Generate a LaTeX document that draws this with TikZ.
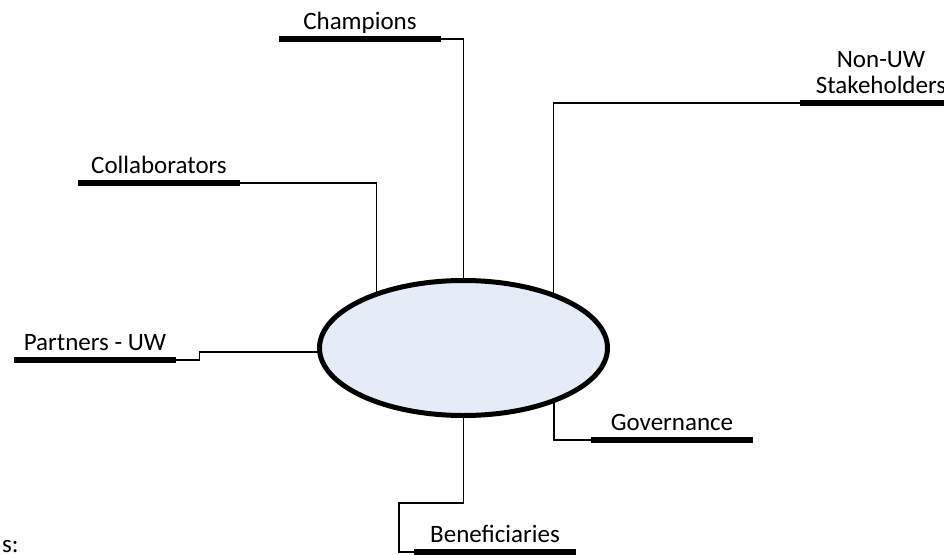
\documentclass[tikz,border=0pt]{standalone}
\usepackage{fontspec}
\setmainfont{Carlito}
\usetikzlibrary{shapes.geometric}
\definecolor{ovalfill}{RGB}{230,236,247}
\tikzset{
  lab/.style={font=\fontsize{25}{26}\selectfont, minimum width=161pt, inner xsep=0pt, inner ysep=9pt, text depth=0pt, anchor=south, align=center},
  under/.style={line width=5.5pt},
  conn/.style={line width=1.3pt},
  hub/.style={ellipse, draw, line width=5pt, fill=ovalfill, minimum width=288pt, minimum height=135pt, inner sep=0pt}
}
\begin{document}
\begin{tikzpicture}[x=1pt,y=-1pt]
\useasboundingbox (0,0) rectangle (944,554);
% hub position
\coordinate (hubpos) at (463.5,348);
% labels
\node[lab] (champ) at (360,39) {Champions};
\node[lab] (nonuw) at (881,103) {Non-UW\\Stakeholders};
\node[lab] (collab) at (159,183) {Collaborators};
\node[lab] (partners) at (95,360) {Partners - UW};
\node[lab] (gov) at (672,440) {Governance};
\node[lab] (bene) at (495,552) {Beneficiaries};
\node[font=\fontsize{25}{26}\selectfont, anchor=base west, inner sep=0pt] (notes) at (2,552) {s:};
% connectors (drawn beneath the hub)
\draw[conn] (champ.south east) -| (hubpos);
\draw[conn] (collab.south east) -| ([xshift=-87pt]hubpos);
\draw[conn] (nonuw.south west) -| ([xshift=90pt]hubpos);
\draw[conn] (gov.south west) -| ([xshift=90.5pt]hubpos);
\draw[conn] (partners.south east) -- ++(24,0) |- ([yshift=-4pt]hubpos);
\draw[conn] (hubpos) -- ++(0,155) -- ++(-64.5,0) |- (bene.south west);
% hub
\node[hub] (c) at (hubpos) {};
% underlines
\foreach \n in {champ,nonuw,collab,partners,gov,bene}
  \draw[under] (\n.south west) -- (\n.south east);
\end{tikzpicture}
\end{document}
